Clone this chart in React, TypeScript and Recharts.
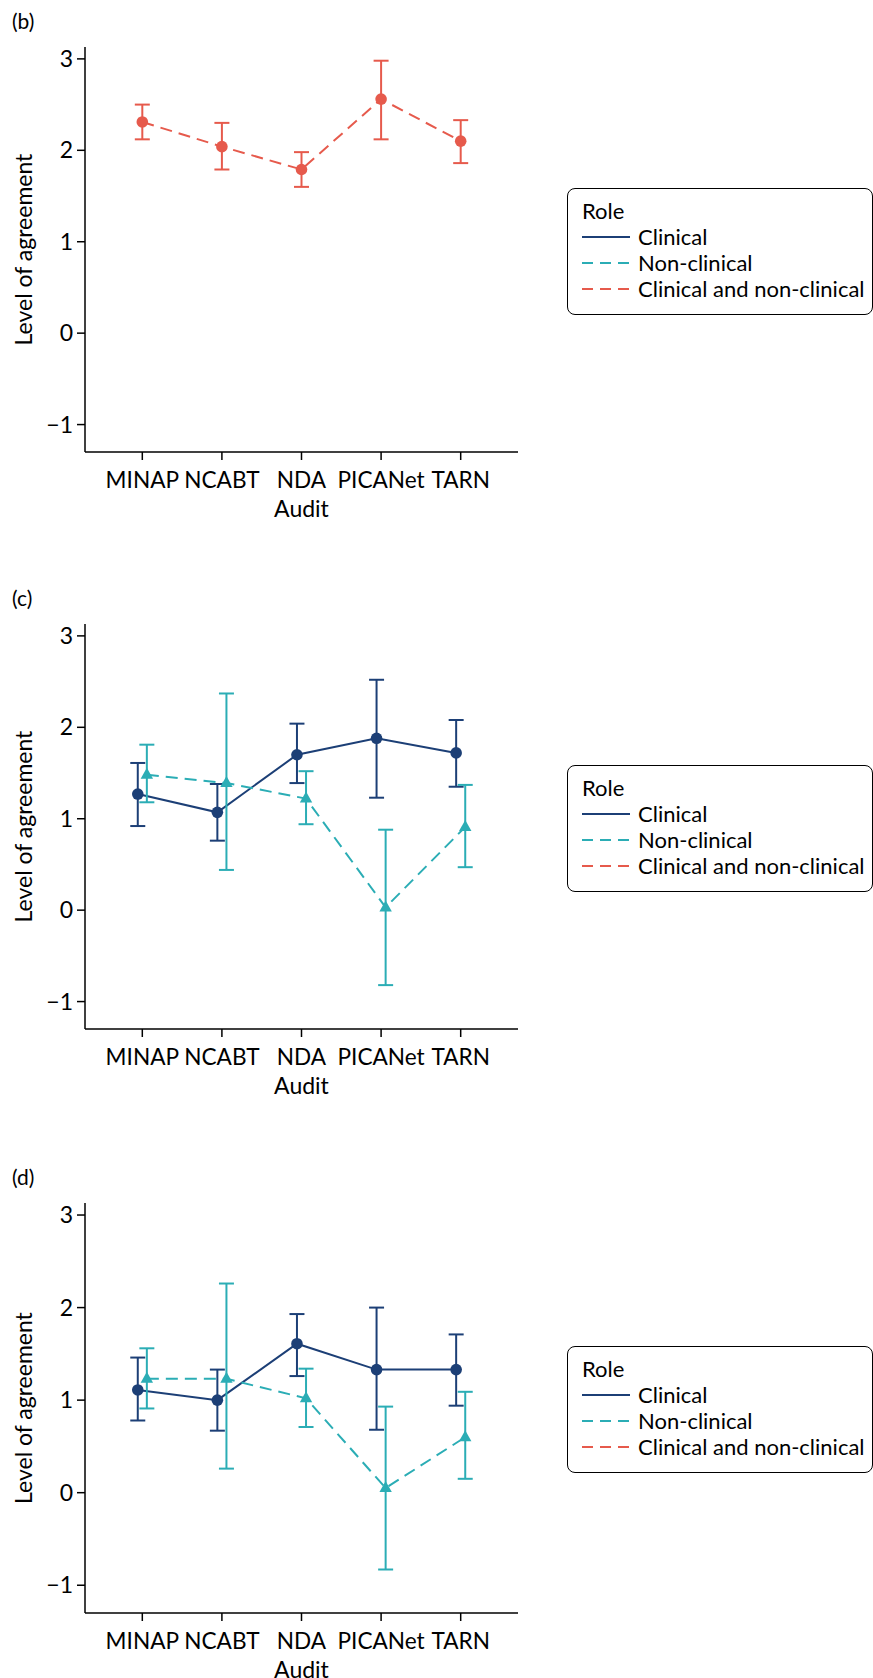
import React from 'react';
import { ComposedChart, Line, XAxis, YAxis, ErrorBar, Legend } from 'recharts';

const audits = ['MINAP', 'NCABT', 'NDA', 'PICANet', 'TARN'];
const xTicks = [1, 2, 3, 4, 5];
const yTicks = [-1, 0, 1, 2, 3];
const roles = ['Clinical', 'Non-clinical', 'Clinical and non-clinical'];

// (b) clinical and non-clinical together
const bBothMean = [2.31, 2.04, 1.79, 2.56, 2.1];
const bBothLow = [2.12, 1.79, 1.6, 2.12, 1.86];
const bBothHigh = [2.5, 2.3, 1.98, 2.98, 2.33];

// (c)
const cClinMean = [1.27, 1.07, 1.7, 1.88, 1.72];
const cClinLow = [0.92, 0.76, 1.39, 1.23, 1.35];
const cClinHigh = [1.61, 1.38, 2.04, 2.52, 2.08];
const cNonMean = [1.48, 1.39, 1.22, 0.03, 0.91];
const cNonLow = [1.18, 0.44, 0.94, -0.82, 0.47];
const cNonHigh = [1.81, 2.37, 1.52, 0.88, 1.37];

// (d)
const dClinMean = [1.11, 1.0, 1.61, 1.33, 1.33];
const dClinLow = [0.78, 0.67, 1.26, 0.68, 0.94];
const dClinHigh = [1.46, 1.33, 1.93, 2.0, 1.71];
const dNonMean = [1.23, 1.23, 1.02, 0.05, 0.6];
const dNonLow = [0.91, 0.26, 0.71, -0.83, 0.15];
const dNonHigh = [1.56, 2.26, 1.34, 0.93, 1.09];

const NAVY = '#1c3f76';
const TEAL = '#2badb5';
const RED = '#e65a4c';
const FONT = 'Lato, "Open Sans", sans-serif';
const DASH = '12 7';
const LEGEND_DASH = '11 7';

interface Series {
  name: string;
  color: string;
  dashed: boolean;
  marker: 'circle' | 'triangle';
  offset: number;
  mean: number[];
  low: number[];
  high: number[];
}

const toPoints = (s: Series) =>
  s.mean.map((m, i) => ({
    x: i + 1 + s.offset,
    y: m,
    err: [m - s.low[i], s.high[i] - m],
  }));

const makeDot = (s: Series) => (p: any) => {
  if (p.cx == null || p.cy == null) return <g key={`e-${p.index}`} />;
  if (s.marker === 'circle') {
    return <circle key={`d-${p.index}`} cx={p.cx} cy={p.cy} r={5.8} fill={s.color} />;
  }
  const { cx, cy } = p;
  return (
    <path
      key={`d-${p.index}`}
      d={`M${cx},${cy - 7} L${cx + 6.2},${cy + 4} L${cx - 6.2},${cy + 4} Z`}
      fill={s.color}
    />
  );
};

const legendStyle = [
  { color: NAVY, dash: undefined },
  { color: TEAL, dash: LEGEND_DASH },
  { color: RED, dash: LEGEND_DASH },
];

const RoleLegend = () => (
  <div
    style={{
      border: '1.5px solid #000',
      borderRadius: 8,
      padding: '9px 0 0 14px',
      boxSizing: 'border-box',
      width: 306,
      height: 127,
      fontFamily: FONT,
      fontSize: 22,
      lineHeight: '26px',
      color: '#000',
      background: '#fff',
      whiteSpace: 'nowrap',
    }}
  >
    <div>Role</div>
    {roles.map((r, i) => (
      <div key={r} style={{ display: 'flex', alignItems: 'center' }}>
        <svg width={48} height={4} style={{ flex: 'none' }}>
          <line
            x1={0}
            y1={2}
            x2={48}
            y2={2}
            stroke={legendStyle[i].color}
            strokeWidth={2}
            strokeDasharray={legendStyle[i].dash}
          />
        </svg>
        <span style={{ marginLeft: 8 }}>{r}</span>
      </div>
    ))}
  </div>
);

function Panel({ tag, top, plotH, series }: { tag: string; top: number; plotH: number; series: Series[] }) {
  const mTop = 47;
  const height = mTop + plotH + 78;
  return (
    <div style={{ position: 'absolute', left: 0, top, width: 873, height }}>
      <div style={{ position: 'absolute', left: 12, top: 8, fontFamily: FONT, fontSize: 21, color: '#000' }}>
        {tag}
      </div>
      <ComposedChart width={873} height={height} margin={{ top: mTop, right: 355, bottom: 0, left: 0 }}>
        <XAxis
          type="number"
          dataKey="x"
          domain={[0.28, 5.72]}
          ticks={xTicks}
          interval={0}
          allowDataOverflow
          height={78}
          tickFormatter={(v) => audits[Math.round(v) - 1]}
          tick={{ fontFamily: FONT, fontSize: 22.6, fill: '#000' }}
          tickSize={8}
          tickMargin={12}
          axisLine={{ stroke: '#000', strokeWidth: 1.5 }}
          tickLine={{ stroke: '#000', strokeWidth: 1.5 }}
          label={{
            content: () => (
              <text x={301.5} y={mTop + plotH + 56} textAnchor="middle" dominantBaseline="central"
                fontFamily={FONT} fontSize={23} fill="#000">
                Audit
              </text>
            ),
          }}
        />
        <YAxis
          type="number"
          domain={[-1.3, 3.13]}
          ticks={yTicks}
          interval={0}
          allowDataOverflow
          width={85}
          tickFormatter={(v) => (v < 0 ? `\u2212${Math.abs(v)}` : `${v}`)}
          tick={{ fontFamily: FONT, fontSize: 23, fill: '#000' }}
          tickSize={8}
          tickMargin={4}
          axisLine={{ stroke: '#000', strokeWidth: 1.5 }}
          tickLine={{ stroke: '#000', strokeWidth: 1.5 }}
          label={{
            content: () => {
              const cx = 23;
              const cy = mTop + plotH / 2;
              return (
                <text x={cx} y={cy} transform={`rotate(-90 ${cx} ${cy})`} textAnchor="middle"
                  dominantBaseline="central" fontFamily={FONT} fontSize={23} fill="#000">
                  Level of agreement
                </text>
              );
            },
          }}
        />
        <Legend
          layout="horizontal"
          verticalAlign="middle"
          align="center"
          content={<RoleLegend />}
          wrapperStyle={{ left: 567, top: mTop + plotH / 2 - 62, width: 306, height: 127 }}
        />
        {series.map((s) => (
          <Line
            key={s.name}
            name={s.name}
            data={toPoints(s)}
            dataKey="y"
            type="linear"
            stroke={s.color}
            strokeWidth={2}
            strokeDasharray={s.dashed ? DASH : undefined}
            dot={makeDot(s)}
            activeDot={false}
            legendType="none"
            isAnimationActive={false}
          >
            <ErrorBar dataKey="err" direction="y" width={7.5} stroke={s.color} strokeWidth={2} />
          </Line>
        ))}
      </ComposedChart>
    </div>
  );
}

const seriesB: Series[] = [
  { name: roles[2], color: RED, dashed: true, marker: 'circle', offset: 0, mean: bBothMean, low: bBothLow, high: bBothHigh },
];
const seriesC: Series[] = [
  { name: roles[0], color: NAVY, dashed: false, marker: 'circle', offset: -0.057, mean: cClinMean, low: cClinLow, high: cClinHigh },
  { name: roles[1], color: TEAL, dashed: true, marker: 'triangle', offset: 0.057, mean: cNonMean, low: cNonLow, high: cNonHigh },
];
const seriesD: Series[] = [
  { name: roles[0], color: NAVY, dashed: false, marker: 'circle', offset: -0.057, mean: dClinMean, low: dClinLow, high: dClinHigh },
  { name: roles[1], color: TEAL, dashed: true, marker: 'triangle', offset: 0.057, mean: dNonMean, low: dNonLow, high: dNonHigh },
];

export default function App() {
  return (
    <div style={{ position: 'absolute', left: 0, top: 0, width: 873, height: 1678, background: '#fff', overflow: 'hidden' }}>
      <Panel tag="(b)" top={0} plotH={405} series={seriesB} />
      <Panel tag="(c)" top={577} plotH={405} series={seriesC} />
      <Panel tag="(d)" top={1156} plotH={410} series={seriesD} />
    </div>
  );
}
